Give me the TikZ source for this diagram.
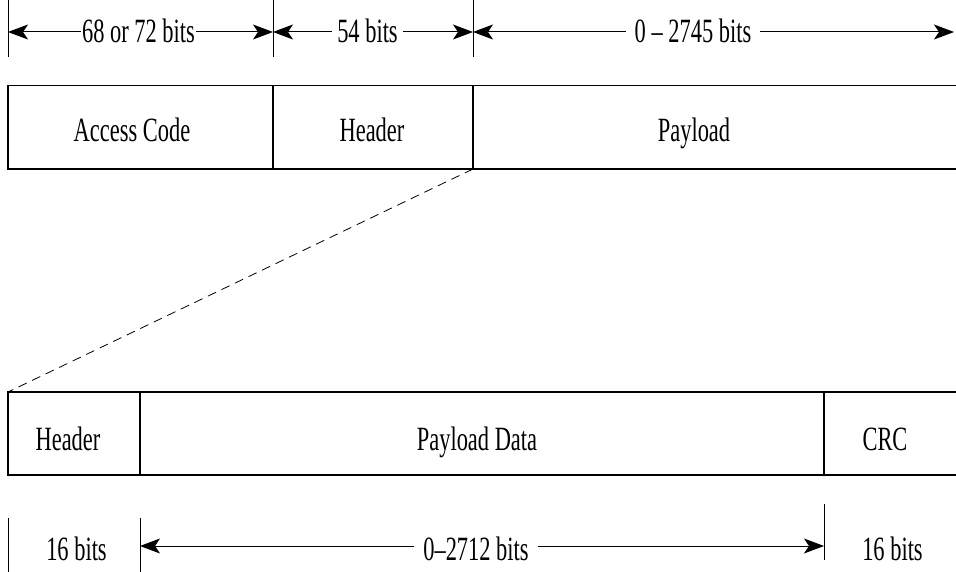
\documentclass[tikz,border=0pt]{standalone}
\usepackage{fontspec}
\setmainfont{Liberation Serif}[FakeStretch=0.66]
\usetikzlibrary{arrows.meta}
\begin{document}
\begin{tikzpicture}[x=1pt,y=-1pt,
  line width=1pt,
  >={Stealth[length=20pt,width=15pt,inset=5pt]},
  lbl/.style={inner sep=0pt,anchor=base,font=\fontsize{34}{40}\selectfont},
  dimlbl/.style={lbl,inner xsep=6pt},
  tick/.style={line width=0.8pt},
  frame/.style={line width=1.1pt}]
\useasboundingbox (0,0) rectangle (956,572);

% ---- packet fields ----
\coordinate (pA) at (8,85.5);   \coordinate (pAb) at (8,169);
\coordinate (pH) at (273,85.5); \coordinate (pHb) at (273,169);
\coordinate (pP) at (473,85.5); \coordinate (pPb) at (473,169);
\coordinate (pE) at (956,85.5); \coordinate (pEb) at (956,169);
\draw[frame] (pE) -- (pA) -- (pAb) -- (pEb);
\draw[frame] (pH) -- (pHb);
\draw[frame] (pP) -- (pPb);
\node[lbl] (access) at (132,142) {Access Code};
\node[lbl] (header) at (372,142) {Header};
\node[lbl] (payload) at (694,142) {Payload};

% ---- payload fields ----
\coordinate (qH) at (8,392);   \coordinate (qHb) at (8,475);
\coordinate (qD) at (140,392); \coordinate (qDb) at (140,475);
\coordinate (qC) at (824,392); \coordinate (qCb) at (824,475);
\coordinate (qE) at (956,392); \coordinate (qEb) at (956,475);
\draw[frame] (qE) -- (qH) -- (qHb) -- (qEb);
\draw[frame] (qD) -- (qDb);
\draw[frame] (qC) -- (qCb);
\node[lbl] (pheader) at (68,450) {Header};
\node[lbl] (pdata) at (477,450) {Payload Data};
\node[lbl] (crc) at (885,450) {CRC};

% expansion line
\draw[dash pattern=on 9pt off 6pt,line width=0.8pt] (pPb) -- (qH);

% ---- upper dimensions ----
\coordinate (d0) at (8,32);   \draw[tick] (8,0) -- (8,57);
\coordinate (d1) at (273,32); \draw[tick] (273,0) -- (273,57);
\coordinate (d2) at (473,32); \draw[tick] (473,0) -- (473,57);
\coordinate (d3) at (954,32);
\node[lbl,inner xsep=1pt] (w1) at (138.5,43) {68 or 72 bits};
\node[dimlbl,inner xsep=5pt] (w2) at (367.5,43) {54 bits};
\node[dimlbl,inner xsep=8pt] (w3) at (693,43) {0 – 2745 bits};
\draw[->] (w1.west |- d0) -- (d0);
\draw[->] (w1.east |- d0) -- (d1);
\draw[->] (w2.west |- d1) -- (d1);
\draw[->] (w2.east |- d1) -- (d2);
\draw[->] (w3.west |- d2) -- (d2);
\draw[->] (w3.east |- d2) -- (d3);

% ---- lower dimensions ----
\draw[tick] (8,518) -- (8,572);
\coordinate (e1) at (140,546); \draw[tick] (140,518) -- (140,572);
\coordinate (e2) at (824,546); \draw[tick] (824,504) -- (824,560);
\node[lbl] (v1) at (76.5,560) {16 bits};
\node[dimlbl,inner xsep=9pt] (v2) at (476,560) {0–2712 bits};
\node[lbl] (v3) at (892.5,560) {16 bits};
\draw[->] (v2.west |- e1) -- (e1);
\draw[->] (v2.east |- e1) -- (e2);
\end{tikzpicture}
\end{document}
